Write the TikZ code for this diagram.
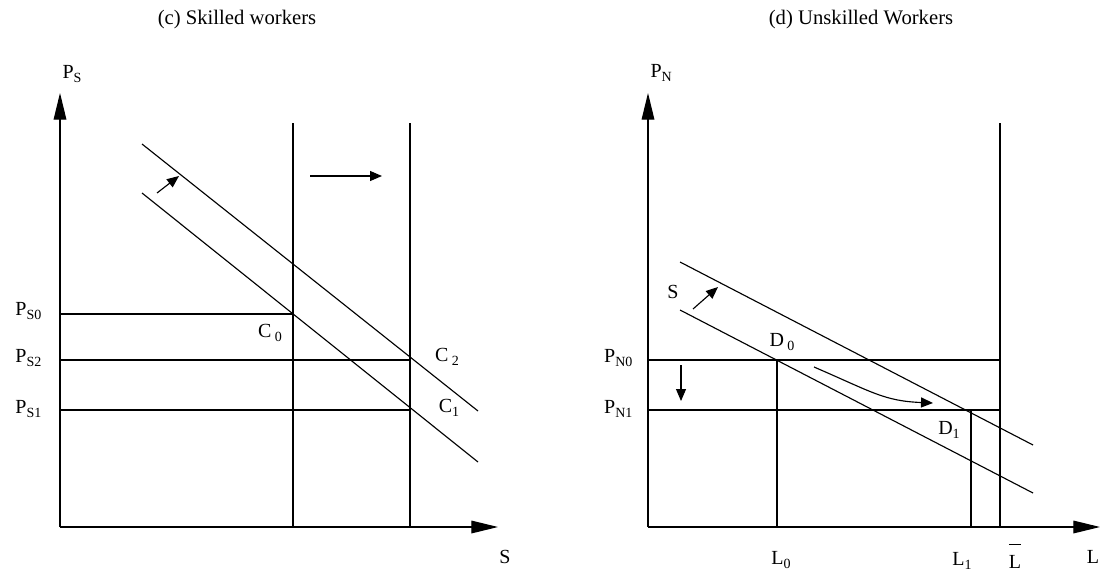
\documentclass[tikz,border=0pt]{standalone}
\usepackage{fontspec}
\setmainfont{Liberation Serif}
\usetikzlibrary{arrows.meta,positioning}
\newcommand{\lowidx}[1]{\raisebox{-3pt}{\fontsize{10.5}{10.5}\selectfont #1}}
\tikzset{axisline/.style={-{Triangle[length=20pt,width=9.5pt]},line width=0.9pt},
  schedule/.style={line width=0.85pt},
  guide/.style={line width=0.85pt},
  move/.style={-{Triangle[length=9pt,width=7.5pt]},line width=0.85pt},
  lbl/.style={font=\fontsize{15}{15}\selectfont,inner sep=1pt},
  ttl/.style={font=\fontsize{15.5}{15.5}\selectfont,inner sep=1pt}}
\begin{document}
\begin{tikzpicture}[x=0.75pt,y=-0.75pt]
    \useasboundingbox (0,0) rectangle (1105,571);
    % (c) skilled workers
    \coordinate (oS) at (60,527);
    \coordinate (yS) at (60,93);
    \coordinate (xS) at (498,527);
    \coordinate (s0) at (293,123);
    \coordinate (s1) at (410,123);
    \coordinate (C0) at (293,314);
    \coordinate (C2) at (410,360);
    \coordinate (C1) at (410,410);
    \coordinate (cu1) at (142,144); \coordinate (cu2) at (478,411);
    \coordinate (cl1) at (142,193); \coordinate (cl2) at (478,462);
    \coordinate (ca1) at (157,193); \coordinate (ca2) at (179,176);
    \coordinate (cr1) at (310,176); \coordinate (cr2) at (382,176);
    \node[ttl] (tS) at (237,20) {(c) Skilled workers};
    \node[lbl,anchor=base west] (PS) at (61,78) {P\lowidx{S}};
    \node[lbl] (Sx) at (505,557) {S};
    \node[lbl,anchor=base east] (PS0) at (43,315) {P\lowidx{S0}};
    \node[lbl,anchor=base east] (PS2) at (43,362) {P\lowidx{S2}};
    \node[lbl,anchor=base east] (PS1) at (43,413) {P\lowidx{S1}};
    \node[lbl] (lC0) at (270,333) {C\,\lowidx{0}};
    \node[lbl] (lC2) at (447,357) {C\,\lowidx{2}};
    \node[lbl] (lC1) at (449,408) {C\lowidx{1}};
    \draw[axisline] (oS) -- (yS);
    \draw[axisline] (oS) -- (xS);
    \draw[guide] (s0) -- (s0 |- oS);
    \draw[guide] (s1) -- (s1 |- oS);
    \draw[guide] (oS |- C0) -- (C0);
    \draw[guide] (oS |- C2) -- (C2);
    \draw[guide] (oS |- C1) -- (C1);
    \draw[schedule] (cu1) -- (cu2);
    \draw[schedule] (cl1) -- (cl2);
    \draw[move] (ca1) -- (ca2);
    \draw[move] (cr1) -- (cr2);
    % (d) unskilled workers
    \coordinate (oN) at (648,527);
    \coordinate (yN) at (648,93);
    \coordinate (xN) at (1100,527);
    \coordinate (lb) at (1000,123);
    \coordinate (D0) at (777,360);
    \coordinate (D1) at (971,410);
    \coordinate (du1) at (680,262); \coordinate (du2) at (1033,445);
    \coordinate (dl1) at (680,310); \coordinate (dl2) at (1033,493);
    \coordinate (da1) at (693,309); \coordinate (da2) at (718,287);
    \coordinate (dd1) at (681,365); \coordinate (dd2) at (681,401);
    \coordinate (dc1) at (814,367); \coordinate (dc2) at (933,403);
    \node[ttl] (tN) at (861,20) {(d) Unskilled Workers};
    \node[lbl,anchor=base west] (PN) at (649,77) {P\lowidx{N}};
    \node[lbl] (Lx) at (1093,557) {L};
    \node[lbl,anchor=base east] (PN0) at (634,362) {P\lowidx{N0}};
    \node[lbl,anchor=base east] (PN1) at (634,413) {P\lowidx{N1}};
    \node[lbl,anchor=base] (L0) at (781,564) {L\lowidx{0}};
    \node[lbl,anchor=base] (L1) at (962,565) {L\lowidx{1}};
    \node[lbl,anchor=base] (Lbar) at (1015,568) {$\overline{\mbox{\rule{0pt}{1.1em}L}}$};
    \node[lbl] (Sl) at (673,292) {S};
    \node[lbl] (lD0) at (782,342) {D\,\lowidx{0}};
    \node[lbl] (lD1) at (949,430) {D\lowidx{1}};
    \draw[axisline] (oN) -- (yN);
    \draw[axisline] (oN) -- (xN);
    \draw[guide] (lb) -- (lb |- oN);
    \draw[guide] (oN |- D0) -- (lb |- D0);
    \draw[guide] (oN |- D1) -- (lb |- D1);
    \draw[guide] (D0) -- (D0 |- oN);
    \draw[guide] (D1) -- (D1 |- oN);
    \draw[schedule] (du1) -- (du2);
    \draw[schedule] (dl1) -- (dl2);
    \draw[move] (da1) -- (da2);
    \draw[move] (dd1) -- (dd2);
    \draw[move] (dc1) .. controls (872,392) and (884,401) .. (dc2);
\end{tikzpicture}
\end{document}
